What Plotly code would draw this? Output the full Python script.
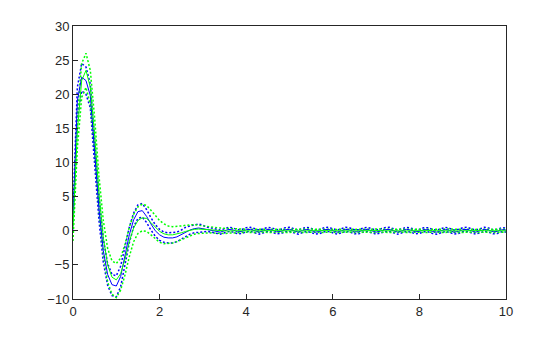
import numpy as np
import plotly.graph_objects as go

t = np.round(np.arange(0, 10.0001, 0.1), 2)

blue_mean = [1.5, 19.0, 22.5, 22.0, 19.8, 11.2, 3.2, -2.9, -6.4, -7.9,
             -8.1, -6.7, -3.7, -0.6, 1.6, 2.8, 2.95, 2.1, 1.0, 0.0,
             -0.6, -0.95, -1.05, -1.05, -0.9, -0.55, -0.15, 0.1, 0.3, 0.4,
             0.3,
             0.2, 0.1, -0.1, -0.2, 0.0, 0.2, 0.1, -0.15, -0.1, 0.15,
             0.2, -0.05, -0.2, 0.0, 0.2, 0.1, -0.15, -0.1, 0.15, 0.2,
             -0.05, -0.2, 0.05, 0.2, 0.05, -0.2, -0.1, 0.15, 0.2, -0.05,
             -0.2, 0.0, 0.2, 0.1, -0.15, -0.15, 0.1, 0.2, 0.0, -0.2,
             -0.05, 0.15, 0.2, -0.05, -0.2, 0.0, 0.2, 0.1, -0.15, -0.1,
             0.15, 0.15, -0.1, -0.2, 0.05, 0.2, 0.05, -0.2, -0.1, 0.15,
             0.2, -0.05, -0.2, 0.0, 0.2, 0.1, -0.15, -0.1, 0.15, 0.1]

blue_upper = [3.0, 21.0, 24.5, 24.0, 21.5, 13.0, 5.0, -1.2, -4.8, -6.4,
              -6.6, -5.2, -2.4, 0.5, 2.6, 3.8, 4.0, 3.1, 1.9, 0.9,
              0.2, -0.2, -0.3, -0.3, -0.2, 0.1, 0.5, 0.7, 0.9, 1.0,
              0.8,
              0.5, 0.4, 0.2, 0.1, 0.3, 0.5, 0.4, 0.15, 0.2, 0.45,
              0.5, 0.25, 0.1, 0.3, 0.5, 0.4, 0.15, 0.2, 0.45, 0.5,
              0.25, 0.1, 0.35, 0.5, 0.35, 0.1, 0.2, 0.45, 0.5, 0.25,
              0.1, 0.3, 0.5, 0.4, 0.15, 0.15, 0.4, 0.5, 0.3, 0.1,
              0.25, 0.45, 0.5, 0.25, 0.1, 0.3, 0.5, 0.4, 0.15, 0.2,
              0.45, 0.45, 0.2, 0.1, 0.35, 0.5, 0.35, 0.1, 0.2, 0.45,
              0.5, 0.25, 0.1, 0.3, 0.5, 0.4, 0.15, 0.2, 0.45, 0.4]

blue_lower = [0.2, 16.5, 20.5, 20.0, 18.0, 9.5, 1.5, -4.6, -8.0, -9.5,
              -9.7, -8.2, -5.0, -1.8, 0.6, 1.8, 2.0, 1.2, 0.1, -0.8,
              -1.4, -1.7, -1.8, -1.8, -1.6, -1.2, -0.8, -0.5, -0.3, -0.2,
              -0.2,
              -0.1, -0.2, -0.4, -0.5, -0.3, -0.1, -0.2, -0.45, -0.4, -0.15,
              -0.1, -0.35, -0.5, -0.3, -0.1, -0.2, -0.45, -0.4, -0.15, -0.1,
              -0.35, -0.5, -0.25, -0.1, -0.25, -0.5, -0.4, -0.15, -0.1, -0.35,
              -0.5, -0.3, -0.1, -0.2, -0.45, -0.45, -0.2, -0.1, -0.3, -0.5,
              -0.35, -0.15, -0.1, -0.35, -0.5, -0.3, -0.1, -0.2, -0.45, -0.4,
              -0.15, -0.15, -0.4, -0.5, -0.25, -0.1, -0.25, -0.5, -0.4, -0.15,
              -0.1, -0.35, -0.5, -0.3, -0.1, -0.2, -0.45, -0.4, -0.15, -0.2]

green_mean = [0.3, 14.5, 22.0, 23.5, 21.0, 14.0, 5.5, -1.0, -5.0, -6.8,
              -7.2, -6.3, -4.2, -1.6, 0.4, 1.5, 1.9, 1.8, 1.2, 0.5,
              -0.1, -0.45, -0.6, -0.6, -0.5, -0.3, -0.1, 0.1, 0.2, 0.25,
              0.2,
              0.15, 0.1, 0.05, 0.0, -0.05, -0.05, 0.0, 0.03, 0.03, 0.0,
              -0.02, 0.0, 0.02, 0.0, -0.02, 0.0, 0.02, 0.0, -0.02, 0.0,
              0.02, 0.0, -0.02, 0.0, 0.02, 0.0, -0.02, 0.0, 0.02, 0.0,
              -0.02, 0.0, 0.02, 0.0, -0.02, 0.0, 0.02, 0.0, -0.02, 0.0,
              0.02, 0.0, -0.02, 0.0, 0.02, 0.0, -0.02, 0.0, 0.02, 0.0,
              -0.02, 0.0, 0.02, 0.0, -0.02, 0.0, 0.02, 0.0, -0.02, 0.0,
              0.02, 0.0, -0.02, 0.0, 0.02, 0.0, -0.02, 0.0, 0.02, 0.0]

green_upper = [2.0, 17.0, 24.5, 26.0, 23.5, 16.5, 8.0, 1.5, -2.6, -4.4,
               -4.8, -4.0, -2.0, 0.5, 2.4, 3.5, 3.9, 3.7, 3.0, 2.2,
               1.5, 1.0, 0.7, 0.6, 0.6, 0.7, 0.8, 0.9, 0.9, 0.8,
               0.7,
               0.6, 0.5, 0.45, 0.4, 0.35, 0.3, 0.3, 0.28, 0.25, 0.22,
               0.2, 0.22, 0.25, 0.22, 0.2, 0.22, 0.25, 0.22, 0.2, 0.22,
               0.25, 0.22, 0.2, 0.22, 0.25, 0.22, 0.2, 0.22, 0.25, 0.22,
               0.2, 0.22, 0.25, 0.22, 0.2, 0.22, 0.25, 0.22, 0.2, 0.22,
               0.25, 0.22, 0.2, 0.22, 0.25, 0.22, 0.2, 0.22, 0.25, 0.22,
               0.2, 0.22, 0.25, 0.22, 0.2, 0.22, 0.25, 0.22, 0.2, 0.22,
               0.25, 0.22, 0.2, 0.22, 0.25, 0.22, 0.2, 0.22, 0.25, 0.22]

green_lower = [-1.5, 12.0, 19.5, 21.0, 18.5, 11.5, 3.0, -3.5, -7.5, -9.3,
               -9.8, -8.7, -6.5, -3.8, -1.6, -0.4, 0.0, -0.1, -0.6, -1.2,
               -1.7, -1.9, -1.9, -1.8, -1.6, -1.3, -1.0, -0.7, -0.5, -0.4,
               -0.35,
               -0.3, -0.3, -0.35, -0.4, -0.4, -0.35, -0.3, -0.25, -0.22, -0.22,
               -0.25, -0.22, -0.2, -0.22, -0.25, -0.22, -0.2, -0.22, -0.25, -0.22,
               -0.2, -0.22, -0.25, -0.22, -0.2, -0.22, -0.25, -0.22, -0.2, -0.22,
               -0.25, -0.22, -0.2, -0.22, -0.25, -0.22, -0.2, -0.22, -0.25, -0.22,
               -0.2, -0.22, -0.25, -0.22, -0.2, -0.22, -0.25, -0.22, -0.2, -0.22,
               -0.25, -0.22, -0.2, -0.22, -0.25, -0.22, -0.2, -0.22, -0.25, -0.22,
               -0.2, -0.22, -0.25, -0.22, -0.2, -0.22, -0.25, -0.22, -0.2, -0.22]

x_ticks = [0, 2, 4, 6, 8, 10]
y_ticks = [-10, -5, 0, 5, 10, 15, 20, 25, 30]

BLUE = "#0000ff"
GREEN = "#00ff00"
DOT = "2px,2px"

fig = go.Figure()
fig.add_trace(go.Scatter(x=t, y=blue_upper, mode="lines",
                         line=dict(color=BLUE, width=1.5, dash=DOT)))
fig.add_trace(go.Scatter(x=t, y=blue_lower, mode="lines",
                         line=dict(color=BLUE, width=1.5, dash=DOT)))
fig.add_trace(go.Scatter(x=t, y=green_upper, mode="lines",
                         line=dict(color=GREEN, width=1.5, dash=DOT)))
fig.add_trace(go.Scatter(x=t, y=green_lower, mode="lines",
                         line=dict(color=GREEN, width=1.5, dash=DOT)))
fig.add_trace(go.Scatter(x=t, y=blue_mean, mode="lines",
                         line=dict(color=BLUE, width=1)))
fig.add_trace(go.Scatter(x=t, y=green_mean, mode="lines",
                         line=dict(color=GREEN, width=1)))

axis_common = dict(showgrid=False, zeroline=False, showline=True,
                   linecolor="#262626", linewidth=1, mirror=True,
                   ticks="inside", ticklen=5, tickcolor="#262626",
                   tickfont=dict(family="Liberation Sans, Arial, sans-serif",
                                 size=13, color="#262626"))

fig.update_layout(
    width=560, height=337,
    margin=dict(l=73, r=54, t=26, b=38),
    paper_bgcolor="white", plot_bgcolor="white",
    showlegend=False,
    xaxis=dict(range=[0, 10], tickvals=x_ticks, **axis_common),
    yaxis=dict(range=[-10, 30], tickvals=y_ticks, **axis_common),
)

fig.write_html("out.html")
